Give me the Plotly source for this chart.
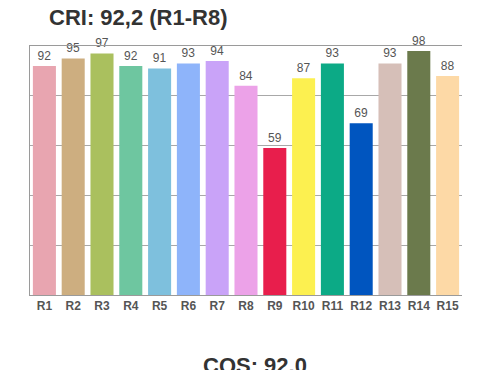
import plotly.graph_objects as go

categories = ["R1", "R2", "R3", "R4", "R5", "R6", "R7", "R8", "R9", "R10", "R11", "R12", "R13", "R14", "R15"]
values = [92, 95, 97, 92, 91, 93, 94, 84, 59, 87, 93, 69, 93, 98, 88]
colors = ["#E8A5B0", "#CDAE80", "#AAC05E", "#6EC6A0", "#7EC0DD", "#8EB4FA", "#C9A3F8",
          "#ECA2E8", "#E81E4C", "#FCF050", "#0CAA86", "#0055BF", "#D6BFB8", "#6B7A4C", "#FDD9A6"]
title_text = "CRI: 92,2 (R1-R8)"
footer_text = "CQS: 92.0"

FONT = "Liberation Sans, Arial, sans-serif"

fig = go.Figure(go.Bar(
    x=categories, y=values,
    marker=dict(color=colors, line=dict(width=0)),
    text=[str(v) for v in values], textposition="outside",
    textfont=dict(size=12, color="#555555", family=FONT),
    cliponaxis=False,
))

# page is offset by 8px body margin; plot area in page px: x 30..462, y 46..295
L, T = 22, 38
PW, PH = 432, 249
R = 500 - L - PW
B = 370 - T - PH

fig.update_layout(
    width=500, height=370,
    margin=dict(l=L, r=R, t=T, b=B),
    paper_bgcolor="white", plot_bgcolor="white",
    bargap=0.2, showlegend=False,
    font=dict(family=FONT),
    xaxis=dict(showline=True, linecolor="#9a9a9a", linewidth=1, mirror=True,
               ticks="", tickfont=dict(size=12, color="#555555", family=FONT),
               tickvals=categories, ticktext=["<b>" + c + "</b>" for c in categories],
               showgrid=False, fixedrange=True),
    yaxis=dict(range=[0, 100], dtick=20, showticklabels=False, showgrid=True,
               gridcolor="#a8a8a8", gridwidth=1, showline=True, linecolor="#9a9a9a",
               linewidth=1, zeroline=False, ticks="", fixedrange=True),
    annotations=[
        dict(text="<b>" + title_text + "</b>", xref="paper", yref="paper",
             x=(39 - L) / PW, y=(T + PH - 10) / PH, xanchor="left", yanchor="middle",
             showarrow=False, font=dict(size=22, color="#333333", family=FONT)),
        dict(text="<b>" + footer_text + "</b>", xref="paper", yref="paper",
             x=(247 - L) / PW, y=(T + PH - 357) / PH, xanchor="center", yanchor="middle",
             showarrow=False, font=dict(size=22, color="#333333", family=FONT)),
    ],
)

fig.write_html("out.html")
